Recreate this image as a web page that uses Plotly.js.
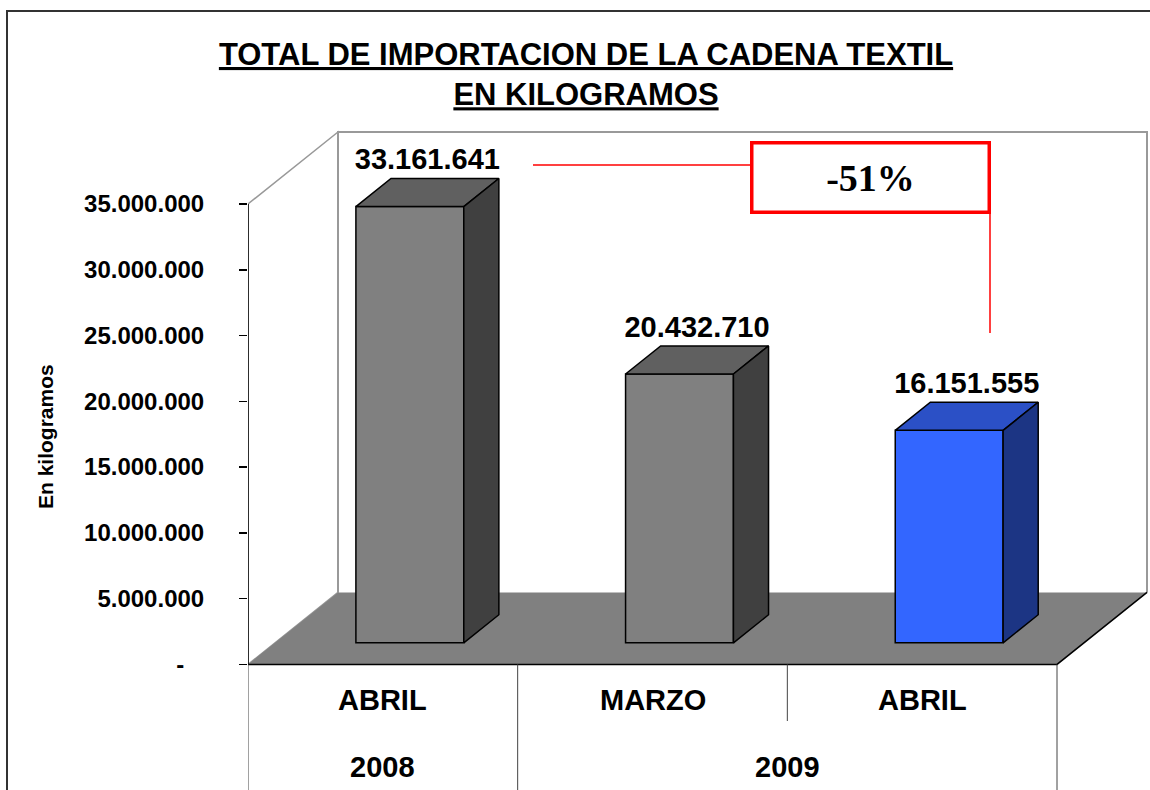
<!DOCTYPE html>
<html>
<head>
<meta charset="utf-8">
<script src="https://cdn.plot.ly/plotly-3.0.1.min.js"></script>
<style>html,body{margin:0;padding:0;background:#fff;}#chart{width:1150px;height:790px;}</style>
</head>
<body>
<div id="chart"></div>
<script>
// ---------------- DATA ----------------
const months = ['ABRIL', 'MARZO', 'ABRIL'];
const years = ['2008', '2009', '2009'];
const values = [33161641, 20432710, 16151555];
const yTickValues = [0, 5000000, 10000000, 15000000, 20000000, 25000000, 30000000, 35000000];
const chartTitle = 'TOTAL DE IMPORTACION DE LA CADENA TEXTIL';
const chartSubtitle = 'EN KILOGRAMOS';
const yTitle = 'En kilogramos';

// ---------------- STYLE / GEOMETRY ----------------
const FONT = 'Liberation Sans, Arial, Helvetica, sans-serif';
const FRONT = ['#808080', '#808080', '#3366FF'];
const TOP = ['#606060', '#606060', '#2B50C6'];
const SIDE = ['#404040', '#404040', '#1C3584'];

const PX_L = 248, PX_R = 1148, PX_T = 115, PX_B = 790;
const CAT_PX = 269.67;          // pixels per category
const Y0_PX = 664.4;            // pixel of value 0
const PX_PER = 13.155e-6;       // pixels per kilogram
const px2x = p => -0.5 + (p - PX_L) / CAT_PX;
const px2y = p => (Y0_PX - p) / PX_PER;
const xRange = [-0.5, px2x(PX_R)];
const yRange = [px2y(PX_B), px2y(PX_T)];

const DXc = 90 / CAT_PX;        // depth offset in category units
const DYv = 72 / PX_PER;        // depth offset in value units
const F1 = 0.30, F2 = 0.69;     // bar depth position (front / back fraction)
const BAR_W = 0.40;
const dd = (F2 - F1) * DXc, dh = (F2 - F1) * DYv;
const base = F1 * DYv;
const nCat = values.length;
const wallTop = yTickValues[yTickValues.length - 1];

const fmt = v => String(Math.round(v)).replace(/\B(?=(\d{3})+(?!\d))/g, '.');

// ---------------- TRACES ----------------
const idx = values.map((_, i) => i);
const frontCenter = idx.map(i => i + F1 * DXc);

const traces = [];
traces.push({
  type: 'bar', x: frontCenter, y: values, base: values.map(() => base), width: BAR_W,
  marker: {color: FRONT, line: {color: '#000', width: 1.5}},
  hoverinfo: 'skip', showlegend: false
});
idx.forEach(i => {
  const xl = frontCenter[i] - BAR_W / 2, xr = frontCenter[i] + BAR_W / 2;
  const top = base + values[i];
  traces.push({
    type: 'scatter', mode: 'lines', fill: 'toself', fillcolor: TOP[i],
    x: [xl, xr, xr + dd, xl + dd, xl], y: [top, top, top + dh, top + dh, top],
    line: {color: '#000', width: 1.5}, hoverinfo: 'skip', showlegend: false
  });
  traces.push({
    type: 'scatter', mode: 'lines', fill: 'toself', fillcolor: SIDE[i],
    x: [xr, xr + dd, xr + dd, xr, xr], y: [base, base + dh, top + dh, top, base],
    line: {color: '#000', width: 1.5}, hoverinfo: 'skip', showlegend: false
  });
});
traces.push({
  type: 'scatter', mode: 'text',
  x: idx.map(i => frontCenter[i] - BAR_W / 2 + (BAR_W + dd) / 2),
  y: idx.map(i => base + values[i] + dh + 2 / PX_PER),
  text: values.map(v => '<b>' + fmt(v) + '</b>'),
  textposition: 'top center', cliponaxis: false,
  textfont: {family: FONT, size: 29, color: '#000'},
  hoverinfo: 'skip', showlegend: false
});

// ---------------- SHAPES ----------------
const shapes = [];
const xb = -0.5 + DXc, xe = nCat - 0.5 + DXc;
// back wall
shapes.push({type: 'rect', layer: 'below', xref: 'x', yref: 'y', x0: xb, x1: xe, y0: DYv, y1: wallTop + DYv,
  fillcolor: '#fff', line: {width: 0}});
// left wall
shapes.push({type: 'path', layer: 'below', xref: 'x', yref: 'y',
  path: `M ${-0.5} 0 L ${-0.5} ${wallTop} L ${xb} ${wallTop + DYv} L ${xb} ${DYv} Z`,
  fillcolor: '#fff', line: {color: '#999', width: 1.5}});
// back wall outline
shapes.push({type: 'path', layer: 'below', xref: 'x', yref: 'y',
  path: `M ${xb} ${DYv} L ${xb} ${wallTop + DYv} L ${xe} ${wallTop + DYv} L ${xe} ${DYv}`,
  fillcolor: 'rgba(0,0,0,0)', line: {color: '#999', width: 2}});
// floor
shapes.push({type: 'path', layer: 'below', xref: 'x', yref: 'y',
  path: `M -0.5 0 L ${nCat - 0.5} 0 L ${xe} ${DYv} L ${xb} ${DYv} Z`,
  fillcolor: '#808080', line: {width: 0}});
shapes.push({type: 'path', layer: 'below', xref: 'x', yref: 'y',
  path: `M -0.5 0 L ${nCat - 0.5} 0 L ${xe} ${DYv}`,
  fillcolor: 'rgba(0,0,0,0)', line: {color: '#000', width: 1.5}});
// value axis line
shapes.push({type: 'line', layer: 'below', xref: 'x', yref: 'y', x0: -0.5, x1: -0.5, y0: 0, y1: wallTop,
  line: {color: '#000', width: 1.5}});
// category separators
const yBottom = yRange[0];
const yMonthRowEnd = px2y(721);
for (let k = 0; k <= nCat; k++) {
  const xk = k - 0.5;
  const yearBoundary = (k === 0 || k === nCat || years[k] !== years[k - 1]);
  shapes.push({type: 'line', layer: 'below', xref: 'x', yref: 'y', x0: xk, x1: xk, y0: 0,
    y1: yearBoundary ? yBottom : yMonthRowEnd, line: {color: '#444', width: 1}});
}
// connector lines for the -51% callout
shapes.push({type: 'line', xref: 'x', yref: 'y', x0: px2x(533), x1: px2x(750), y0: px2y(165), y1: px2y(165),
  line: {color: '#FF0000', width: 1.5}});
shapes.push({type: 'line', xref: 'x', yref: 'y', x0: px2x(990), x1: px2x(990), y0: px2y(213), y1: px2y(333),
  line: {color: '#FF0000', width: 1.5}});
// outer chart frame
const pxX = p => (p - PX_L) / (PX_R - PX_L);
const pxY = p => 1 - (p - PX_T) / (PX_B - PX_T);
shapes.push({type: 'path', xref: 'paper', yref: 'paper',
  path: `M ${pxX(7)} ${pxY(800)} L ${pxX(7)} ${pxY(11)} L ${pxX(1160)} ${pxY(11)}`,
  fillcolor: 'rgba(0,0,0,0)', line: {color: '#333', width: 2}});

// ---------------- ANNOTATIONS ----------------
const annotations = [];
months.forEach((m, i) => annotations.push({
  xref: 'x', yref: 'y', x: i, y: px2y(700), text: '<b>' + m + '</b>', showarrow: false,
  font: {family: FONT, size: 29, color: '#000'}
}));
const yearGroups = [];
years.forEach((yv, i) => {
  const g = yearGroups.find(o => o.y === yv);
  if (g) g.idx.push(i); else yearGroups.push({y: yv, idx: [i]});
});
yearGroups.forEach(g => annotations.push({
  xref: 'x', yref: 'y', x: (g.idx[0] + g.idx[g.idx.length - 1]) / 2, y: px2y(767),
  text: '<b>' + g.y + '</b>', showarrow: false, font: {family: FONT, size: 29, color: '#000'}
}));
annotations.push({
  xref: 'paper', yref: 'y', x: pxX(45), y: px2y(437), xanchor: 'center', yanchor: 'middle',
  text: '<b>' + yTitle + '</b>', textangle: -90,
  showarrow: false, font: {family: FONT, size: 21, color: '#000'}
});
const change = Math.round((values[nCat - 1] / values[0] - 1) * 100);
annotations.push({
  xref: 'x', yref: 'y', x: px2x(870.5), y: px2y(177.5), text: '<b>' + change + '%</b>', showarrow: false,
  font: {family: 'Liberation Serif, Times New Roman, serif', size: 38, color: '#000'},
  bgcolor: '#fff', bordercolor: '#FF0000', borderwidth: 3.5, borderpad: 0, width: 234, height: 66
});

const layout = {
  width: 1150, height: 790,
  margin: {l: PX_L, r: 1150 - PX_R, t: PX_T, b: 790 - PX_B, pad: 0},
  paper_bgcolor: '#fff', plot_bgcolor: 'rgba(0,0,0,0)', showlegend: false,
  title: {
    text: '<b><u>' + chartTitle + '</u><br><u>' + chartSubtitle + '</u></b>',
    font: {family: FONT, size: 31, color: '#000'},
    xref: 'container', yref: 'container', x: 586 / 1150, xanchor: 'center', y: 1 - 65 / 790, yanchor: 'top'
  },
  xaxis: {range: xRange, visible: false, fixedrange: true},
  yaxis: {
    range: yRange, tickmode: 'array', tickvals: yTickValues,
    ticktext: yTickValues.map(v => v === 0 ? '-\u00A0\u00A0\u00A0' : fmt(v)),
    ticks: 'outside', ticklen: 8, tickwidth: 1.5, tickcolor: '#000',
    tickfont: {family: FONT, size: 24, color: '#000', weight: 'bold'},
    ticklabelstandoff: 30,
    showgrid: false, zeroline: false, showline: false, fixedrange: true
  },
  shapes: shapes, annotations: annotations, bargap: 0
};
Plotly.newPlot('chart', traces, layout, {displayModeBar: false, staticPlot: true});
</script>
</body>
</html>
